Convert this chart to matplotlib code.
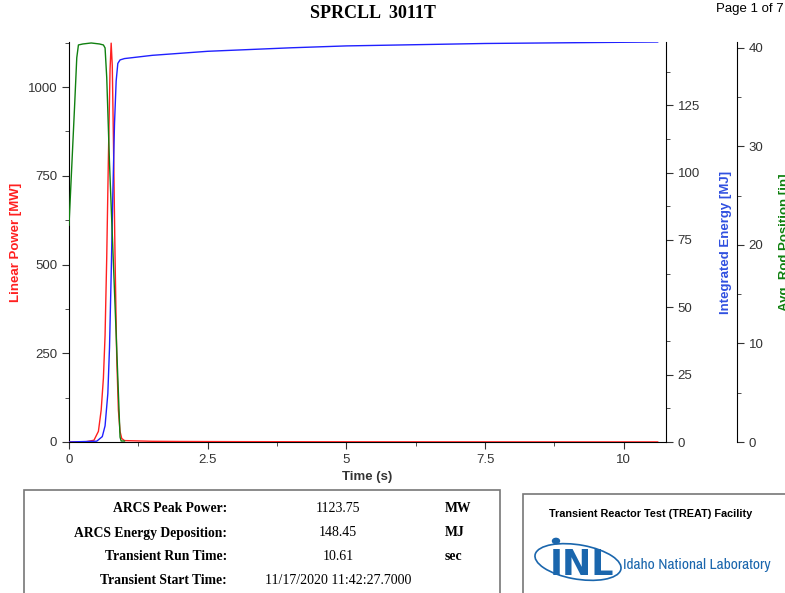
import matplotlib.pyplot as plt
from matplotlib import font_manager
from matplotlib.patches import Rectangle, Ellipse, Circle
from matplotlib.ticker import MultipleLocator

# values
power_t = [0.0, 0.3, 0.45, 0.53, 0.58, 0.62, 0.65, 0.68, 0.71, 0.74, 0.76, 0.78,
           0.80, 0.83, 0.86, 0.89, 0.92, 0.95, 1.0, 1.5, 2.0, 3.0, 5.0, 7.5, 10.0, 10.61]
power_mw = [0.0, 0.5, 5, 30, 90, 180, 300, 520, 800, 1050, 1123.75, 1060,
            860, 520, 240, 90, 30, 10, 4, 2, 1.5, 1.0, 0.6, 0.4, 0.3, 0.3]

energy_t = [0.0, 0.5, 0.6, 0.65, 0.7, 0.73, 0.76, 0.79, 0.82, 0.85, 0.88, 0.92,
            1.0, 1.5, 2.5, 4.0, 5.0, 7.5, 10.0, 10.61]
energy_mj = [0.0, 0.3, 2, 6, 18, 35, 62, 92, 118, 134, 140.5, 141.8,
             142.3, 143.5, 145.0, 146.3, 147.0, 147.9, 148.35, 148.45]

rod_t = [0.0, 0.05, 0.1, 0.14, 0.17, 0.25, 0.4, 0.55, 0.62, 0.65, 0.68, 0.73,
         0.8, 0.87, 0.92, 0.94, 1.0]
rod_in = [22.0, 28.0, 34.0, 39.0, 40.3, 40.4, 40.5, 40.4, 40.3, 40.0, 37.0, 28.3,
          18.2, 8.0, 0.5, 0.1, 0.1]

info_labels = ["ARCS Peak Power:", "ARCS Energy Deposition:",
               "Transient Run Time:", "Transient Start Time:"]
info_values = ["1123.75", "148.45", "10.61", "11/17/2020 11:42:27.7000"]
info_units = ["MW", "MJ", "sec", ""]

plt.rcParams["font.family"] = ["Liberation Sans", "DejaVu Sans"]
tick_col = "#333333"

narrow = [f.name for f in font_manager.fontManager.ttflist
          if "Narrow" in f.name or "Condensed" in f.name]
narrow_font = narrow[0] if narrow else "Liberation Sans"

fig = plt.figure(figsize=(7.85, 5.93), dpi=100)
W, H = 785, 593
ax = fig.add_axes([69 / W, 1 - 442 / H, (666 - 69) / W, 400 / H])

ax.plot(power_t, power_mw, color="#ff2020", lw=1.0, zorder=3)
ax.set_xlim(0, 10.76)
ax.set_ylim(0, 1127)
ax.xaxis.set_major_locator(MultipleLocator(2.5))
ax.xaxis.set_minor_locator(MultipleLocator(1.25))
ax.yaxis.set_major_locator(MultipleLocator(250))
ax.yaxis.set_minor_locator(MultipleLocator(125))
ax.xaxis.set_major_formatter(plt.FuncFormatter(lambda v, p: f"{v:g}"))
ax.spines["top"].set_visible(False)
ax.spines["right"].set_visible(False)
ax.tick_params(labelsize=9.5, colors=tick_col, length=5)
ax.tick_params(which="minor", length=3, colors=tick_col)
ax.set_ylabel("Linear Power [MW]", color="#ff2020", fontsize=9.5, fontweight="bold")
ax.yaxis.set_label_coords(-0.078, 0.5)
ax.set_xlabel("Time (s)", fontsize=9.5, fontweight="bold", color="#333333", labelpad=4)

ax2 = ax.twinx()
ax2.plot(energy_t, energy_mj, color="#2020ff", lw=1.0, zorder=3)
ax2.set_ylim(0, 148.45)
ax2.yaxis.set_major_locator(MultipleLocator(25))
ax2.yaxis.set_minor_locator(MultipleLocator(12.5))
for s in ["top", "left", "bottom"]:
    ax2.spines[s].set_visible(False)
ax2.tick_params(labelsize=9.5, colors=tick_col, length=5)
ax2.tick_params(which="minor", length=3, colors=tick_col)
ax2.set_ylabel("Integrated Energy [MJ]", color="#3050e0", fontsize=9.5, fontweight="bold")
ax2.yaxis.set_label_coords(1.09, 0.5)

ax3 = ax.twinx()
ax3.plot(rod_t, rod_in, color="#108010", lw=1.0, zorder=3)
ax3.set_ylim(0, 40.6)
ax3.spines["right"].set_position(("axes", (737 - 69) / (666 - 69)))
for s in ["top", "left", "bottom"]:
    ax3.spines[s].set_visible(False)
ax3.yaxis.set_major_locator(MultipleLocator(10))
ax3.yaxis.set_minor_locator(MultipleLocator(5))
ax3.tick_params(labelsize=9.5, colors=tick_col, length=5)
ax3.tick_params(which="minor", length=3, colors=tick_col)
ax3.set_ylabel("Avg. Rod Position [in]", color="#108010", fontsize=9.5, fontweight="bold")
ax3.yaxis.set_label_coords(1.19, 0.5)

fig.text(373 / W, 1 - 14 / H, "SPRCLL  3011T", ha="center", va="center",
         family="Liberation Serif", fontweight="bold", fontsize=13)
fig.text(784 / W, 1 - 9 / H, "Page 1 of 7", ha="right", va="center", fontsize=9.5)

# info box
fig.patches.append(Rectangle((24 / W, -0.05), (500 - 24) / W, 0.05 + (593 - 490) / H,
                             transform=fig.transFigure, fill=False, ec="#777777", lw=1.2))
for i, (lab, val, unit) in enumerate(zip(info_labels, info_values, info_units)):
    y = 1 - (509 + 24 * i) / H
    fig.text(227 / W, y, lab, ha="right", va="center", family="Liberation Serif",
             fontweight="bold", fontsize=9.8)
    fig.text(338 / W, y, val, ha="center", va="center", family="Liberation Serif", fontsize=10)
    fig.text(445 / W, y, unit, ha="left", va="center", family="Liberation Serif",
             fontweight="bold", fontsize=9.8)

# facility box
fig.patches.append(Rectangle((523 / W, -0.05), 0.4, 0.05 + (593 - 494) / H,
                             transform=fig.transFigure, fill=False, ec="#777777", lw=1.2))
fig.text(549 / W, 1 - 514 / H, "Transient Reactor Test (TREAT) Facility", ha="left",
         va="center", fontweight="bold", fontsize=7.8)

inl_blue = "#1a66ad"
fig.patches.append(Ellipse((578 / W, 1 - 562 / H), 88 / W, 34 / H, angle=-14,
                           transform=fig.transFigure, fill=False, ec=inl_blue, lw=1.2))
fig.patches.append(Circle((556 / W, 1 - 541 / H), 3.5 / W, transform=fig.transFigure,
                          color=inl_blue))
fig.text(582 / W, 1 - 565 / H, "INL", ha="center", va="center", color=inl_blue,
         family="DejaVu Sans", fontweight="bold", fontsize=25)
fig.text(623 / W, 1 - 565 / H, "Idaho National Laboratory", ha="left", va="center",
         color=inl_blue, family=narrow_font, fontsize=11.2)

fig.savefig("out.png", dpi=100)
